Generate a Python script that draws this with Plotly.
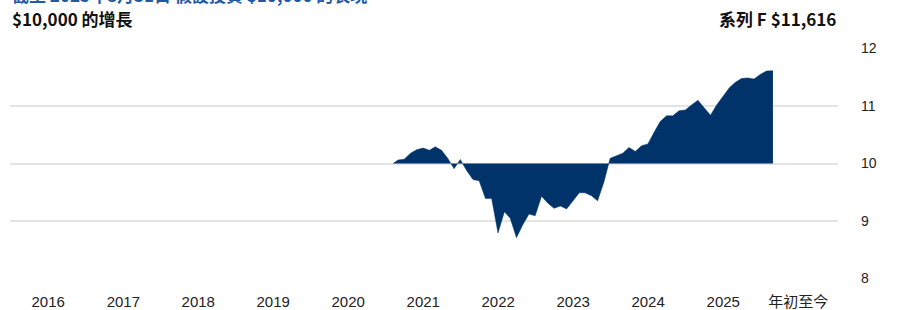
import plotly.graph_objects as go

# Data: growth of $10,000 (in thousands), month-end values
dates = [
    "2020-08-07", "2020-08-31", "2020-09-30", "2020-10-31", "2020-11-30", "2020-12-31",
    "2021-01-31", "2021-02-28", "2021-03-31", "2021-04-30", "2021-05-31", "2021-06-30",
    "2021-07-31", "2021-08-31", "2021-09-30", "2021-10-31", "2021-11-30", "2021-12-31",
    "2022-01-31", "2022-02-28", "2022-03-31", "2022-04-30", "2022-05-31", "2022-06-30",
    "2022-07-31", "2022-08-31", "2022-09-30", "2022-10-31", "2022-11-30", "2022-12-31",
    "2023-01-31", "2023-02-28", "2023-03-31", "2023-04-30", "2023-05-31", "2023-06-30",
    "2023-07-31", "2023-08-31", "2023-09-30", "2023-10-31", "2023-11-30", "2023-12-31",
    "2024-01-31", "2024-02-29", "2024-03-31", "2024-04-30", "2024-05-31", "2024-06-30",
    "2024-07-31", "2024-08-31", "2024-09-30", "2024-10-31", "2024-11-30", "2024-12-31",
    "2025-01-31", "2025-02-28", "2025-03-31", "2025-04-30", "2025-05-31", "2025-06-30",
    "2025-07-31", "2025-08-31",
]
values = [
    10.00, 10.06, 10.075, 10.18, 10.24, 10.27,
    10.23, 10.29, 10.23, 10.09, 9.91, 10.07,
    9.88, 9.72, 9.70, 9.39, 9.39, 8.79,
    9.16, 9.05, 8.71, 8.93, 9.12, 9.09,
    9.43, 9.31, 9.22, 9.26, 9.21, 9.34,
    9.49, 9.49, 9.44, 9.35, 9.68, 10.09,
    10.13, 10.18, 10.28, 10.21, 10.31, 10.34,
    10.55, 10.73, 10.83, 10.83, 10.92, 10.93,
    11.02, 11.10, 10.97, 10.84, 11.02, 11.18,
    11.32, 11.41, 11.48, 11.49, 11.47, 11.55,
    11.61, 11.616,
]
baseline_value = 10.0
tick_dates = ["2016-01-01", "2017-01-01", "2018-01-01", "2019-01-01", "2020-01-01",
              "2021-01-01", "2022-01-01", "2023-01-01", "2024-01-01", "2025-01-01",
              "2026-01-01"]
tick_labels = ["2016", "2017", "2018", "2019", "2020", "2021", "2022", "2023",
               "2024", "2025", "年初至今"]
y_ticks = [8, 9, 10, 11, 12]

title_left = "$10,000 的增長"
title_right = "系列 F $11,616"
top_caption = "截至 2025年8月31日 假設投資 $10,000 的表現"

NAVY = "#003369"
FONT = "Liberation Sans, Arial, Noto Sans CJK TC, sans-serif"
CJK_BOLD = "Noto Sans CJK TC, Noto Sans, sans-serif"

fig = go.Figure()
fig.add_trace(go.Scatter(
    x=dates, y=[baseline_value] * len(dates), mode="lines",
    line=dict(width=0, color=NAVY), hoverinfo="skip", showlegend=False,
))
fig.add_trace(go.Scatter(
    x=dates, y=values, mode="lines", fill="tonexty", fillcolor=NAVY,
    line=dict(width=0.5, color=NAVY), showlegend=False,
))

fig.update_layout(
    width=898, height=310,
    margin=dict(l=10, r=60, t=48, b=31),
    paper_bgcolor="white", plot_bgcolor="white",
    font=dict(family=FONT, color="#222222"),
    xaxis=dict(
        type="date",
        range=["2015-06-29", "2026-07-14"],
        tickvals=tick_dates, ticktext=tick_labels,
        showgrid=False, zeroline=False, showline=False, ticks="",
        tickfont=dict(size=15, color="#222222"),
        ticklabelstandoff=12, automargin=False,
    ),
    yaxis=dict(
        side="right", range=[7.99, 12.01], tickvals=y_ticks,
        showgrid=True, gridcolor="#e3e3e3", gridwidth=2,
        zeroline=False, showline=False, ticks="",
        tickfont=dict(size=14, color="#222222"),
        ticklabelstandoff=22, automargin=False,
    ),
    annotations=[
        dict(text="<b>" + title_left + "</b>", x=0, xref="paper", xanchor="left",
             y=1, yref="paper", yanchor="middle", yshift=30,
             showarrow=False,
             font=dict(family=CJK_BOLD, size=17, color="#111111")),
        dict(text="<b>" + title_right + "</b>", x=1, xref="paper", xanchor="right",
             y=1, yref="paper", yanchor="middle", yshift=30, showarrow=False,
             font=dict(family=CJK_BOLD, size=17, color="#111111")),
        dict(text="<b>" + top_caption + "</b>", x=0, xref="paper", xanchor="left",
             y=1, yref="paper", yanchor="middle", yshift=54, showarrow=False,
             font=dict(family=CJK_BOLD, size=17, color="#1f5aa6")),
    ],
)

fig.write_html("out.html", config={"displayModeBar": False},
               post_script="document.body.style.margin='0';")
